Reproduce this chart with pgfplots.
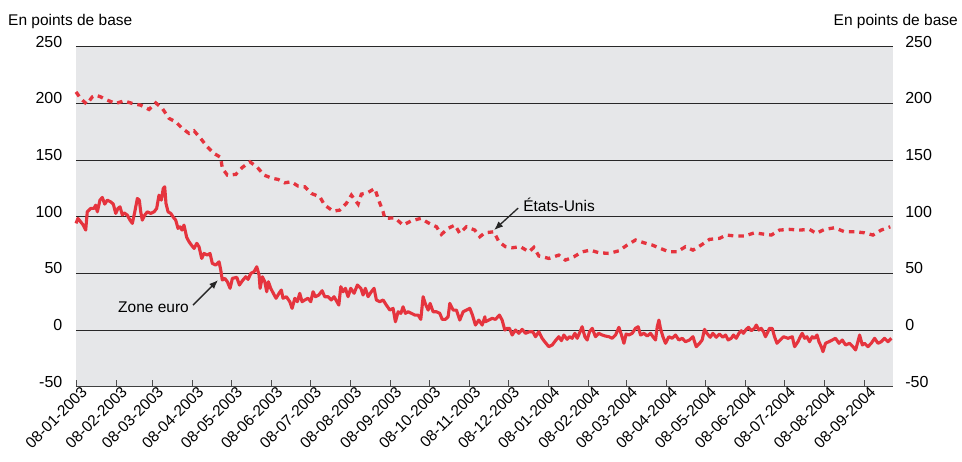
\documentclass[border=0pt]{standalone}
\usepackage{pgfplots}
\pgfplotsset{compat=1.18}
\usetikzlibrary{arrows.meta}
\usepackage{fontspec}
\setmainfont{Liberation Sans}
\definecolor{bgcol}{RGB}{230,231,233}
\definecolor{lred}{RGB}{229,52,62}
\definecolor{gridc}{RGB}{40,40,40}

\pgfplotstableread{
day val
0 210.1
3.6 204.3
8.3 199.3
12.6 205.7
15.2 207.2
19.1 205.7
24.2 202.8
30.7 199.9
37.1 202.2
43.5 199.9
50.0 198.4
56.4 194.6
61.6 200.4
66.7 195.5
71.9 186.7
77.0 183.7
82.1 177.9
87.3 173.5
91.2 175.7
96.3 169.0
101.4 161.6
106.6 155.8
111.8 152.3
113.0 142.6
116.9 136.7
123.4 137.3
128.5 143.5
134.4 148.4
140.1 143.5
145.2 136.7
151.7 133.8
156.1 132.9
161.2 129.9
166.3 130.8
171.5 127.0
176.7 126.4
181.8 120.5
188.3 117.5
192.1 110.2
198.6 104.9
203.7 105.8
208.8 111.7
212.7 119.0
217.9 111.1
220.4 119.9
225.1 121.1
230.8 124.9
233.3 116.1
237.2 104.3
238.5 98.5
246.2 99.0
252.6 92.6
259.1 96.4
266.3 98.5
272.0 94.6
278.4 91.1
282.2 84.4
287.4 89.7
292.6 92.6
296.4 85.3
301.5 91.1
308.0 88.2
311.9 82.3
315.8 85.8
322.7 86.7
326.6 77.9
331.7 73.5
336.9 72.6
343.3 73.5
349.8 69.0
353.6 72.9
357.5 65.3
365.2 63.2
372.9 66.1
378.0 61.7
384.5 64.6
390.9 69.0
397.3 70.5
403.8 68.2
411.6 67.6
419.3 69.9
425.7 75.0
432.1 79.4
438.6 77.0
445.0 75.0
451.4 72.0
457.9 69.0
464.3 69.0
470.7 73.5
476.5 70.5
482.9 75.0
489.3 80.0
497.0 80.9
502.2 83.8
509.9 82.9
516.3 82.9
524.0 85.8
530.5 84.7
537.0 83.8
543.4 88.2
551.1 88.8
558.8 88.2
566.5 88.8
571.7 85.3
578.1 88.8
585.8 90.2
593.6 86.7
601.3 86.7
609.0 85.8
615.5 83.8
621.9 88.2
628.9 91.1
}\usdata

\pgfplotstableread{
day val
0 94.1
1.5 98.5
3.6 95.5
5.6 92.6
7.5 88.2
8.7 104.3
11.4 107.3
13.9 107.3
15.2 110.2
16.5 104.3
18.5 114.6
20.3 117.0
22.2 111.1
24.2 114.6
26.8 113.1
28.8 111.1
30.7 102.9
32.4 107.3
34.0 108.7
35.8 101.4
37.1 103.4
39.6 101.4
41.7 97.0
43.5 94.1
45.4 104.3
47.4 116.1
48.9 114.6
50.0 104.3
51.2 97.0
53.1 101.4
55.1 104.3
57.7 102.9
60.3 104.3
62.3 107.3
64.1 119.0
65.9 114.6
67.4 124.9
68.5 126.4
69.5 111.7
71.1 104.3
73.2 102.9
75.2 99.4
77.0 97.0
78.8 89.7
80.4 91.1
81.9 88.2
83.4 92.6
85.5 81.7
87.3 77.9
89.1 75.0
91.2 72.0
93.3 76.5
95.0 73.5
97.1 63.2
98.9 67.6
101.4 66.1
103.5 67.6
105.3 58.8
107.9 57.3
110.5 60.2
111.8 52.9
113.0 44.1
114.9 45.6
116.9 42.6
119.0 36.8
120.8 45.6
124.2 46.5
126.2 39.7
128.5 43.5
131.1 47.0
132.9 44.7
135.0 50.0
137.5 51.4
139.6 55.8
141.4 48.5
142.2 36.8
143.9 47.0
145.8 42.6
147.3 33.8
148.6 42.6
150.4 36.8
152.4 32.4
154.5 28.0
156.8 32.4
158.6 35.3
159.9 28.0
162.5 29.4
165.1 25.0
166.9 19.1
169.0 28.0
171.0 25.0
172.8 32.4
174.6 25.0
176.7 26.5
179.2 28.0
181.3 25.0
183.1 33.8
184.9 29.4
187.5 30.9
190.1 34.7
192.1 29.4
194.7 29.4
197.2 26.5
199.3 29.4
201.1 25.8
203.0 22.0
204.5 38.2
206.3 33.8
208.1 36.8
210.1 29.4
212.2 36.8
214.8 32.4
217.3 39.7
220.0 36.8
221.7 30.9
223.5 36.8
225.6 29.4
228.1 33.8
230.2 36.8
232.0 26.5
234.6 25.0
237.2 26.5
239.7 22.0
242.4 17.6
244.9 19.1
246.7 7.3
248.8 16.1
250.9 14.7
252.6 20.5
254.4 14.7
256.5 16.1
259.1 14.7
261.7 13.2
264.2 13.2
266.3 9.4
268.1 29.4
269.9 22.9
272.0 17.6
273.5 23.5
275.8 16.1
278.4 16.1
281.0 14.7
282.8 9.4
285.3 9.4
287.4 11.7
288.7 23.5
291.3 17.6
293.8 17.6
296.4 8.8
299.0 16.1
301.5 17.6
304.2 19.1
306.2 13.2
308.5 4.4
311.1 8.8
313.7 4.4
315.8 11.7
316.2 7.3
318.8 8.8
321.4 10.3
324.0 9.4
327.0 13.2
329.1 8.8
331.2 0
333.0 1.5
334.8 1.5
336.9 -4.4
339.4 0
342.0 -2.9
344.6 0.6
347.1 -2.9
350.2 -1.5
352.8 -1.5
354.9 -5.9
357.5 -1.5
360.0 -7.3
362.6 -11.2
365.2 -14.7
367.8 -13.2
370.3 -9.4
372.9 -5.9
374.9 -9.4
376.8 -4.4
379.3 -8.2
381.1 -5.9
383.2 -7.3
385.3 -2.9
387.1 -7.3
388.8 -2.9
390.9 2.9
393.0 -5.9
394.8 -8.8
396.6 -1.5
398.7 1.5
401.2 -5.9
403.8 -2.9
406.4 -4.4
408.9 -5.3
411.6 -5.9
414.1 -7.3
416.7 -4.4
419.3 2.4
421.3 -4.4
423.2 -11.7
424.9 -3.5
427.0 -4.4
429.6 -2.9
432.1 1.5
434.2 2.9
436.0 -4.4
438.6 -2.9
441.2 -5.3
443.7 -2.9
445.6 -5.9
447.6 -8.8
448.9 2.9
450.2 8.8
451.4 1.5
453.3 -5.9
455.3 -11.7
457.9 -5.9
460.5 -7.3
463.0 -4.4
465.6 -8.8
468.2 -7.3
470.7 -10.3
473.8 -8.8
476.5 -5.9
479.0 -14.7
481.6 -11.7
483.6 -8.8
485.4 0.6
487.3 -2.9
489.8 -6.4
491.9 -2.9
494.5 -6.4
497.0 -3.5
499.6 -6.4
501.7 -4.4
503.7 -8.8
506.1 -7.3
507.8 -4.4
509.9 -7.3
512.0 -2.9
513.8 -0.6
515.5 -2.9
517.6 0.6
519.4 2.4
521.5 -0.6
524.0 1.5
525.4 4.4
527.4 0
529.2 1.5
531.0 -1.5
532.5 -5.9
534.4 -1.5
535.6 1.5
537.7 1.5
539.5 -5.9
541.4 -11.7
543.9 -8.8
546.5 -5.9
549.9 -7.3
553.2 -5.9
555.0 -14.7
557.6 -10.3
559.4 -5.9
560.9 -2.9
562.7 -7.3
564.5 -5.9
566.5 -10.3
568.6 -5.9
570.4 -7.3
572.3 -4.4
573.8 -10.3
575.6 -14.7
576.9 -19.1
578.9 -11.7
581.5 -10.3
584.1 -8.8
586.6 -7.3
589.3 -11.7
591.8 -8.8
594.4 -13.2
597.4 -11.7
600.1 -14.7
602.1 -17.6
603.9 -10.3
605.2 -4.4
607.3 -13.2
609.0 -11.7
611.6 -14.7
614.2 -11.7
616.8 -7.3
619.4 -11.7
621.9 -10.3
624.5 -7.3
627.1 -10.3
629.7 -7.3
}\eurodata

\begin{document}
\begin{tikzpicture}
\begin{axis}[
  scale only axis, width=817pt, height=340pt,
  xmin=0, xmax=631, ymin=-50, ymax=250,
  axis background/.style={fill=bgcol},
  axis x line=bottom, axis y line=left,
  x axis line style={-, draw=black!75, line width=1.6pt},
  y axis line style={draw=none},
  ytick={-50,0,50,100,150,200,250},
  yticklabels={-50,0,50,100,150,200,250},
  ytick style={draw=none},
  yticklabel style={font=\fontsize{16}{18}\selectfont, anchor=east, xshift=-10pt, yshift=5pt, inner sep=0pt},
  ymajorgrids,
  grid style={draw=gridc, line width=0.8pt},
  xtick={0,31,59,90,120,151,181,212,243,273,304,334,365,396,425,456,486,517,547,578,609},
  xticklabels={08-01-2003,08-02-2003,08-03-2003,08-04-2003,08-05-2003,08-06-2003,08-07-2003,08-08-2003,08-09-2003,08-10-2003,08-11-2003,08-12-2003,08-01-2004,08-02-2004,08-03-2004,08-04-2004,08-05-2004,08-06-2004,08-07-2004,08-08-2004,08-09-2004},
  xtick align=inside,
  major tick length=7pt,
  xtick style={draw=black!70, line width=0.8pt},
  xticklabel style={font=\fontsize{15.5}{18}\selectfont, rotate=45, anchor=north east, inner sep=0pt, xshift=4pt, yshift=-2pt},
  clip=false,
]
\addplot[color=lred, line width=3.3pt, dash pattern=on 5.5pt off 5pt] table[x=day, y=val] {\usdata};
\addplot[color=lred, line width=3.1pt, line join=round] table[x=day, y=val] {\eurodata};
\node[anchor=west, font=\fontsize{15.5}{18}\selectfont, inner sep=0pt] at (axis cs:345.3,110.2) {États-Unis};
\draw[-{Latex[length=9pt,width=7pt]}, line width=1.3pt, black!85] (axis cs:341.5,107.6) -- (axis cs:322.9,88.2);
\node[anchor=east, font=\fontsize{15.5}{18}\selectfont, inner sep=0pt] at (axis cs:87.3,19.7) {Zone euro};
\draw[-{Latex[length=9pt,width=7pt]}, line width=1.3pt, black!85] (axis cs:90.4,22.0) -- (axis cs:109.7,44.1);
\end{axis}
\begin{axis}[
  scale only axis, width=817pt, height=340pt,
  xmin=0, xmax=631, ymin=-50, ymax=250,
  axis x line=none, axis y line=right,
  y axis line style={draw=none},
  ytick={-50,0,50,100,150,200,250},
  yticklabels={-50,0,50,100,150,200,250},
  ytick style={draw=none},
  yticklabel style={font=\fontsize{16}{18}\selectfont, anchor=west, xshift=10pt, yshift=5pt, inner sep=0pt},
  xtick=\empty,
]
\end{axis}
\node[anchor=base west, inner sep=0pt, font=\fontsize{15.5}{18}\selectfont] at (-68pt,360.7pt) {En points de base};
\node[anchor=base east, inner sep=0pt, font=\fontsize{15.5}{18}\selectfont] at (882pt,360.7pt) {En points de base};
\pgfresetboundingbox
\path (-76pt,-75.3pt) rectangle (886pt,386.7pt);
\end{tikzpicture}
\end{document}
